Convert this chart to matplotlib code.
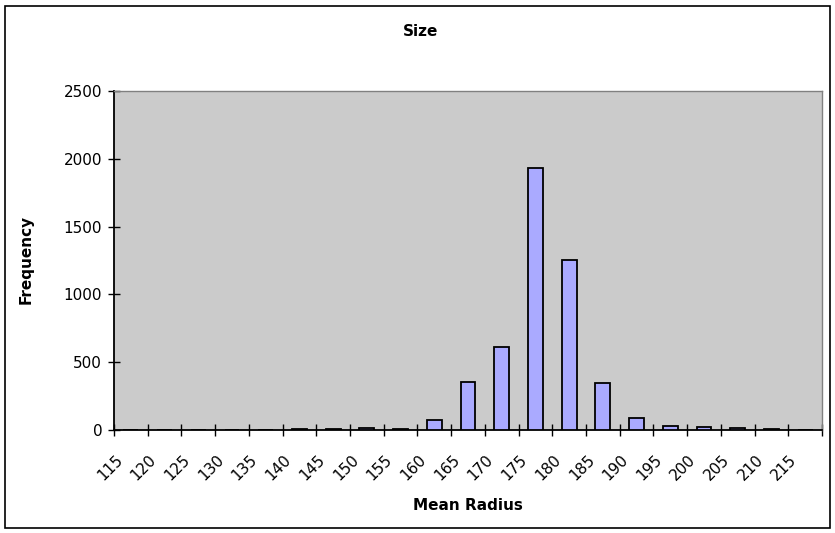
import matplotlib
matplotlib.use("Agg")
import matplotlib.pyplot as plt
from matplotlib.patches import Rectangle
from matplotlib.transforms import ScaledTranslation
import numpy as np

categories = ["115", "120", "125", "130", "135", "140", "145", "150", "155", "160",
              "165", "170", "175", "180", "185", "190", "195", "200", "205", "210", "215"]
frequency = [0, 0, 0, 0, 0, 7, 7, 12, 7, 74,
             355, 612, 1932, 1252, 347, 86, 27, 20, 17, 5, 0]
y_ticks = [0, 500, 1000, 1500, 2000, 2500]

plt.rcParams['font.family'] = ['DejaVu Sans']

W, H = 835, 533
fig = plt.figure(figsize=(W / 100, H / 100), dpi=100)
fig.patch.set_facecolor('white')

# outer chart border
fig.patches.append(Rectangle((5 / W, 5 / H), (830 - 5) / W, (527 - 5) / H,
                             transform=fig.transFigure, fill=False,
                             edgecolor='black', linewidth=1.2))

left, right, top, bottom = 114, 822, 91, 430
ax = fig.add_axes([left / W, 1 - bottom / H, (right - left) / W, (bottom - top) / H])
ax.set_facecolor('#CBCBCB')

x = np.arange(len(categories))
ax.bar(x, frequency, width=0.44, color='#AAAAFF', edgecolor='black', linewidth=1.3, zorder=3)

ax.set_xlim(-0.5, len(categories) - 0.5)
ax.set_ylim(0, 2500)
ax.set_yticks(y_ticks)
ax.set_yticklabels([str(v) for v in y_ticks], fontsize=11)

ax.set_xticks(np.arange(-0.5, len(categories), 1.0))
ax.set_xticklabels([])
ax.set_xticks(x, minor=True)
ax.set_xticklabels(categories, minor=True, rotation=45, ha='right', va='top',
                   rotation_mode='anchor', fontsize=11)
ax.tick_params(axis='x', which='minor', length=0, pad=16)
ax.tick_params(axis='x', which='major', direction='inout', length=9, width=1)
ax.tick_params(axis='y', direction='inout', length=9, width=1, pad=4)

offset = ScaledTranslation(-16 / 100, 0, fig.dpi_scale_trans)
for lab in ax.get_xticklabels(minor=True):
    lab.set_transform(lab.get_transform() + offset)

for s in ['top', 'right']:
    ax.spines[s].set_color('#808080')
    ax.spines[s].set_linewidth(1)
for s in ['left', 'bottom']:
    ax.spines[s].set_color('black')
    ax.spines[s].set_linewidth(1.3)

fig.text(421 / W, 1 - 31 / H, 'Size', ha='center', va='center', fontsize=11, fontweight='bold')
fig.text(468 / W, 1 - 505 / H, 'Mean Radius', ha='center', va='center', fontsize=11, fontweight='bold')
fig.text(26 / W, 1 - 259 / H, 'Frequency', ha='center', va='center', rotation=90,
         fontsize=11, fontweight='bold')

fig.savefig('out.png', dpi=100)
